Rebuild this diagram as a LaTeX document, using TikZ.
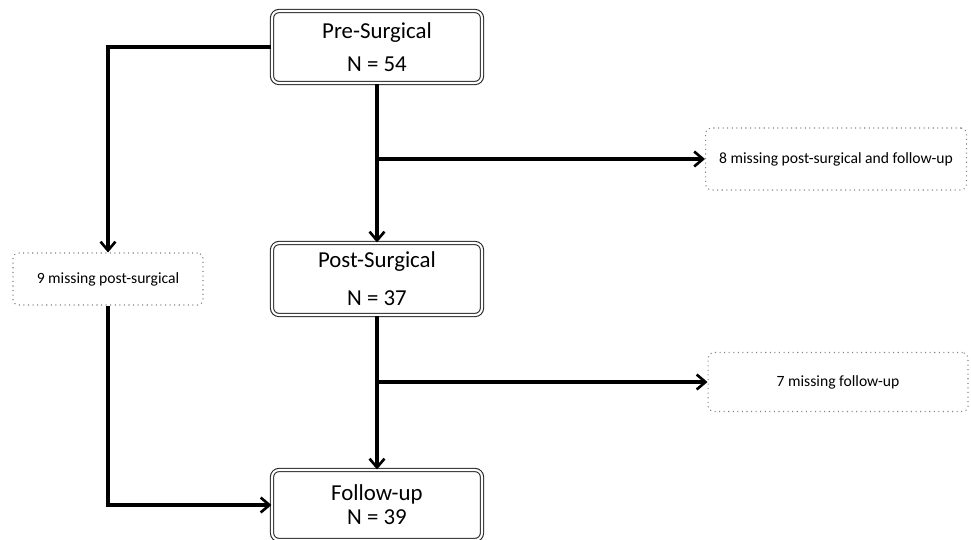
\documentclass[tikz,border=0pt]{standalone}
\usepackage{fontspec}
\setmainfont{Carlito}
\usetikzlibrary{arrows.meta}

\begin{document}
\begin{tikzpicture}[x=0.02cm, y=-0.02cm,
  stage/.style={draw=black!85, double, double distance=1.2pt, line width=0.6pt,
    rounded corners=4pt, minimum width=4.2cm, align=center,
    font=\fontsize{13}{15.6}\selectfont},
  missing/.style={draw=black!50, dotted, line width=0.6pt, rounded corners=3pt,
    font=\fontsize{8.9}{10}\selectfont},
  flow/.style={line width=1.9pt, -{Straight Barb[length=5pt, width=8.5pt, line width=1.5pt]}}]
  \useasboundingbox (0,0) rectangle (971,539);

  \node[stage, minimum height=1.44cm] (pre) at (377,47) {Pre-Surgical\\[3pt] N = 54};
  \node[stage, minimum height=1.44cm] (post) at (377,279) {Post-Surgical\\[6pt] N = 37};
  \node[stage, minimum height=1.4cm] (follow) at (377,505) {Follow-up\\[-2pt] N = 39};

  \node[missing, minimum width=3.8cm, minimum height=1.04cm] (miss9) at (108,279) {9 missing post-surgical};
  \node[missing, minimum width=5.22cm, minimum height=1.24cm] (miss8) at (836,159) {8 missing post-surgical and follow-up};
  \node[missing, minimum width=5.2cm, minimum height=1.18cm] (miss7) at (838,382) {7 missing follow-up};

  \coordinate (split1) at (pre.south |- miss8.west);
  \coordinate (split2) at (post.south |- miss7.west);

  \draw[flow] (pre.west) -| (miss9.north);
  \draw[flow] (pre.south) -- (post.north);
  \draw[flow] (split1) -- (miss8.west);
  \draw[flow] (post.south) -- (follow.north);
  \draw[flow] (split2) -- (miss7.west);
  \draw[flow] (miss9.south) |- (follow.west);
\end{tikzpicture}
\end{document}
